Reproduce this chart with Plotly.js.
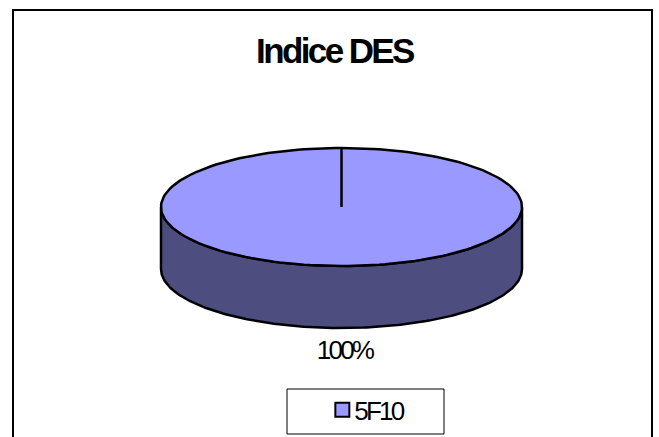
<!DOCTYPE html>
<html><head><meta charset="utf-8">
<script src="https://cdn.plot.ly/plotly-3.0.1.min.js"></script>
<style>
html,body{margin:0;padding:0;background:#fff;overflow:hidden}
#c{width:659px;height:437px}
.gtitle{letter-spacing:-2.6px}
.legendtext{letter-spacing:-2.8px}
.textpoint text{letter-spacing:-2.8px}
.legend .legendpoints{transform:translate(8px,0)}
</style></head><body><div id="c"></div>
<script>
const chartTitle = 'Indice DES';
const categories = ['5F10'];
const values = [100];
const sliceColors = ['#9999FF'];
const sideColors = ['#4D4D80'];

const total = values.reduce((a,b)=>a+b,0);
const cx=341.5, cy=207, rx=180.5, ry=59, depth=62, N=180;
const pt=(deg,dy=0)=>[cx+rx*Math.sin(deg*Math.PI/180), cy-ry*Math.cos(deg*Math.PI/180)+dy];

const topX=[],topY=[];
for(let i=0;i<=N;i++){const p=pt(360*values[0]/total*i/N);topX.push(p[0]);topY.push(p[1]);}
const sideX=[],sideY=[];
for(let i=0;i<=N;i++){const p=pt(90+180*i/N);sideX.push(p[0]);sideY.push(p[1]);}
for(let i=N;i>=0;i--){const p=pt(90+180*i/N,depth);sideX.push(p[0]);sideY.push(p[1]);}
sideX.push(sideX[0]);sideY.push(sideY[0]);

const line={color:'#000',width:2.5};
const traces=[
 {type:'scatter',mode:'lines',x:sideX,y:sideY,fill:'toself',fillcolor:sideColors[0],line:line,showlegend:false,hoverinfo:'skip'},
 {type:'scatter',mode:'lines',x:topX,y:topY,fill:'toself',fillcolor:sliceColors[0],line:line,showlegend:false,hoverinfo:'skip'},
 {type:'scatter',mode:'lines',x:[cx,cx],y:[cy,cy-ry],line:line,showlegend:false,hoverinfo:'skip'},
 {type:'scatter',mode:'text',x:[cx+3],y:[cy+ry+depth+24],text:[Math.round(values[0]/total*100)+'%'],
  textposition:'middle center',textfont:{family:'Liberation Sans',size:26,color:'#000'},showlegend:false,hoverinfo:'skip'},
 {type:'scatter',mode:'markers',x:[null],y:[null],name:categories[0],
  marker:{symbol:'square',size:14,color:sliceColors[0],line:{color:'#000',width:2}}}
];
const layout={
 width:659,height:437,margin:{l:0,r:0,t:0,b:0},
 paper_bgcolor:'#fff',plot_bgcolor:'#fff',
 xaxis:{range:[0,659],visible:false,fixedrange:true},
 yaxis:{range:[437,0],visible:false,fixedrange:true},
 title:{text:'<b>'+chartTitle+'</b>',font:{family:'Liberation Sans',size:35,color:'#000'},x:0.5075,xanchor:'center',y:0.883,yanchor:'middle',yref:'container'},
 showlegend:true,
 legend:{x:0.477,xanchor:'left',y:0.062,yanchor:'middle',bgcolor:'rgba(0,0,0,0)',borderwidth:0,font:{family:'Liberation Sans',size:26,color:'#000'},itemwidth:30,tracegroupgap:0},
 shapes:[
  {type:'rect',xref:'x',yref:'y',x0:13,x1:652,y0:10,y1:445,line:{color:'#000',width:2},fillcolor:'rgba(0,0,0,0)',layer:'below'},
  {type:'rect',xref:'x',yref:'y',x0:287,x1:444,y0:389,y1:434,line:{color:'#000',width:1},fillcolor:'rgba(0,0,0,0)',layer:'below'}
 ]
};
Plotly.newPlot('c',traces,layout,{displayModeBar:false,staticPlot:true});
</script></body></html>
